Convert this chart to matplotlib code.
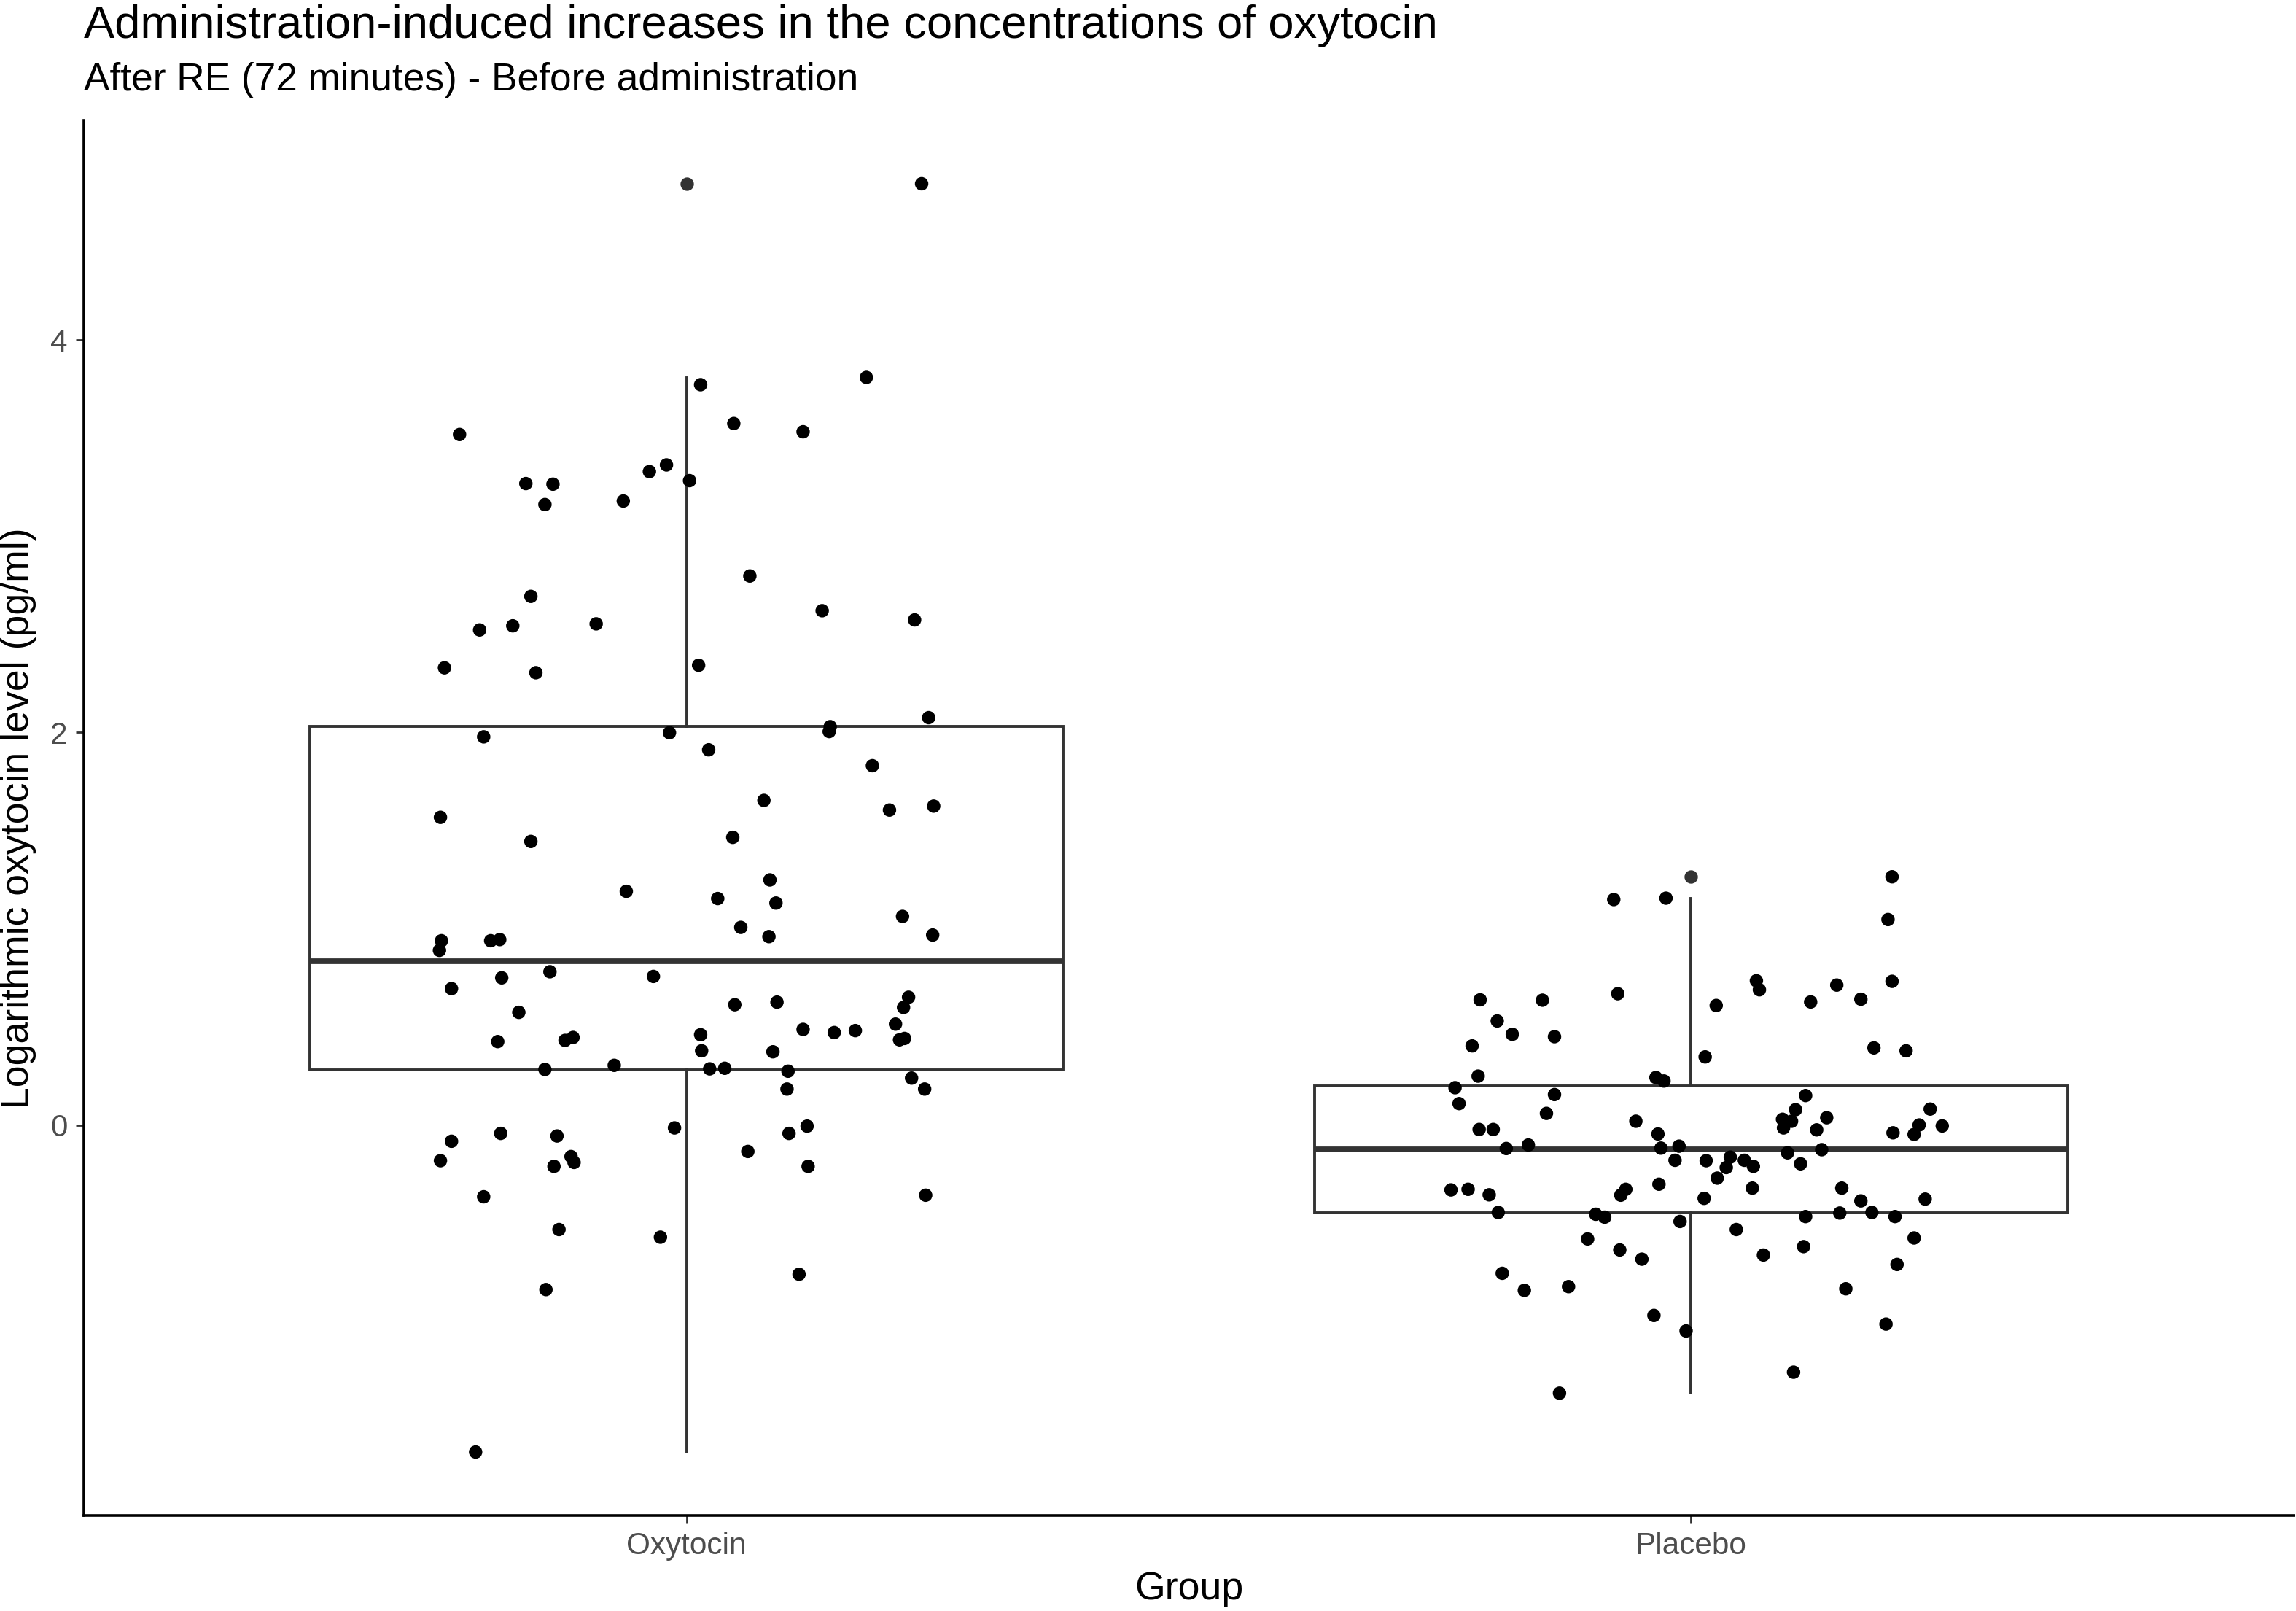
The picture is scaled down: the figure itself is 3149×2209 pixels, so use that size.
import numpy as np
import matplotlib
matplotlib.use("Agg")
import matplotlib.pyplot as plt

plt.rcParams['font.family'] = ['Liberation Sans', 'DejaVu Sans']

title = "Administration-induced increases in the concentrations of oxytocin"
subtitle = "After RE (72 minutes) - Before administration"
xlabel = "Group"
ylabel = "Logarithmic oxytocin level (pg/ml)"
groups = ["Oxytocin", "Placebo"]
yticks = [0, 2, 4]

# Oxytocin group: horizontal jitter (category units) and values
oxy_jitter = [
    0.234, 0.179, 0.014, 0.047, 0.116, -0.226, -0.020, -0.037, 0.003, -0.160, -0.133, -0.141, -0.063,
    0.063, -0.155, 0.135, 0.227, -0.206, -0.173, -0.090, -0.241, -0.150, 0.012, 0.241, 0.143, 0.142,
    -0.202, -0.017, 0.022, 0.185, 0.077, -0.245, 0.202, 0.246, -0.155, 0.046,
    0.083, -0.060, 0.031, 0.089, 0.215, 0.054, 0.082, 0.245, -0.244, -0.246, -0.195, -0.186,
    -0.136, -0.184, -0.033, -0.234, 0.048, 0.090, 0.221, 0.216, -0.167, 0.208, 0.116, 0.147,
    0.168, 0.212, 0.217, -0.188, -0.121, -0.113, 0.014, 0.015, 0.086, -0.141, -0.072, 0.023,
    0.038, 0.101, 0.100, 0.224, 0.237, -0.012, 0.120, 0.102, 0.061, 0.121, -0.185, -0.234,
    -0.129, -0.245, -0.115, -0.112, -0.132, -0.202, 0.238,
    -0.127, -0.026, 0.112, -0.140, -0.210,
]
oxy_values = [
    4.797, 3.810, 3.773, 3.575, 3.533, 3.519, 3.364, 3.330, 3.284, 3.269, 3.266, 3.162, 3.180,
    2.798, 2.694, 2.621, 2.574, 2.523, 2.544, 2.554, 2.330, 2.305, 2.343, 2.076, 2.030, 2.005,
    1.978, 1.999, 1.912, 1.831, 1.654, 1.568, 1.605, 1.625, 1.445, 1.466,
    1.249, 1.191, 1.154, 1.131, 1.063, 1.007, 0.960, 0.968, 0.939, 0.890, 0.939, 0.945,
    0.781, 0.750, 0.757, 0.695, 0.613, 0.626, 0.651, 0.599, 0.574, 0.514, 0.487, 0.471,
    0.481, 0.434, 0.441, 0.425, 0.431, 0.446, 0.460, 0.378, 0.373, 0.283, 0.304, 0.286,
    0.289, 0.274, 0.183, 0.239, 0.183, -0.015, -0.006, -0.043, -0.135, -0.211, -0.043, -0.083,
    -0.056, -0.182, -0.161, -0.191, -0.211, -0.366, -0.358,
    -0.533, -0.572, -0.761, -0.839, -1.667,
]

# Placebo group
pla_jitter = [
    0.200, -0.077, -0.025, 0.196, 0.200, 0.065, 0.068, 0.145, 0.119, 0.169, 0.025, -0.073,
    -0.210, -0.148, -0.193, -0.178, -0.136, -0.218, 0.182, 0.214, 0.014,
    -0.212, -0.235, -0.231, -0.035, -0.027, -0.136, -0.144, -0.055, -0.211, -0.197, -0.184,
    -0.162, -0.033, -0.030, -0.012, -0.016, 0.114, 0.104, 0.091, 0.100, 0.092, 0.135, 0.125,
    0.238, 0.227, 0.250, 0.201, 0.222, 0.096, 0.130, 0.109, 0.015, 0.039, 0.053, 0.062,
    0.035, 0.026, 0.061, 0.013, -0.032, -0.065, -0.070, -0.239, -0.222, -0.201, -0.192,
    -0.095, -0.086, -0.011, 0.150, 0.169, 0.233, 0.148, 0.180, 0.203, 0.114, 0.045,
    -0.103, -0.071, -0.049, -0.188, -0.166, -0.122, -0.037, -0.005, -0.131, 0.222, 0.112,
    0.072, 0.205, 0.154, 0.194, 0.102,
]
pla_values = [
    1.265, 1.149, 1.156, 1.047, 0.732, 0.735, 0.689, 0.713, 0.627, 0.641, 0.609, 0.669,
    0.638, 0.636, 0.530, 0.462, 0.450, 0.403, 0.393, 0.378, 0.347,
    0.249, 0.190, 0.109, 0.242, 0.224, 0.155, 0.059, 0.019, -0.023, -0.023, -0.120,
    -0.102, -0.046, -0.118, -0.108, -0.180, 0.150, 0.078, 0.029, 0.019, -0.015, 0.037, -0.025,
    0.081, 0.000, -0.005, -0.040, -0.048, -0.142, -0.126, -0.198, -0.182, -0.164, -0.180, -0.211,
    -0.217, -0.271, -0.322, -0.374, -0.302, -0.328, -0.358, -0.331, -0.328, -0.356, -0.446,
    -0.455, -0.470, -0.492, -0.322, -0.387, -0.378, -0.449, -0.446, -0.467, -0.467, -0.533,
    -0.581, -0.637, -0.684, -0.756, -0.843, -0.824, -0.971, -1.050, -1.367, -0.576, -0.620,
    -0.663, -0.711, -0.835, -1.015, -1.260,
]

# Box statistics
box_q1 = [0.282, -0.446]
box_med = [0.836, -0.123]
box_q3 = [2.033, 0.198]
box_whislo = [-1.667, -1.365]
box_whishi = [3.808, 1.156]
box_outliers = [[4.797], [1.265]]

W, H, DPI = 3149, 2209, 200
fig = plt.figure(figsize=(W / DPI, H / DPI), dpi=DPI)
fig.patch.set_facecolor("white")
left_px, right_px, top_px, bottom_px = 115, 3146, 165, 2078
ax = fig.add_axes([left_px / W, 1 - bottom_px / H, (right_px - left_px) / W, (bottom_px - top_px) / H])

positions = np.arange(1, len(groups) + 1)
stats = []
for i in range(len(groups)):
    stats.append(dict(med=box_med[i], q1=box_q1[i], q3=box_q3[i],
                      whislo=box_whislo[i], whishi=box_whishi[i],
                      fliers=box_outliers[i]))
ax.bxp(stats, positions=positions, widths=0.75, showcaps=False, patch_artist=True,
       boxprops=dict(facecolor="white", edgecolor="#333333", linewidth=1.4),
       medianprops=dict(color="#333333", linewidth=2.8),
       whiskerprops=dict(color="#333333", linewidth=1.4),
       flierprops=dict(marker="o", markerfacecolor="#333333", markeredgecolor="none",
                       markersize=6.6), zorder=2)

for pos, jit, vals in [(positions[0], oxy_jitter, oxy_values), (positions[1], pla_jitter, pla_values)]:
    ax.scatter(pos + np.asarray(jit), vals, s=44, color="black", edgecolors="none", zorder=3)

all_vals = np.concatenate([oxy_values, pla_values])
rng = all_vals.max() - all_vals.min()
ax.set_ylim(all_vals.min() - 0.05 * rng, all_vals.max() + 0.05 * rng)
ax.set_xlim(0.4, len(groups) + 0.6)

ax.set_xticks(positions)
ax.set_xticklabels(groups)
ax.set_yticks(yticks)
ax.tick_params(axis="both", colors="#333333", labelcolor="#4D4D4D", labelsize=15.2,
               length=4, width=1.0, pad=4)
for s in ["top", "right"]:
    ax.spines[s].set_visible(False)
for s in ["left", "bottom"]:
    ax.spines[s].set_color("black")
    ax.spines[s].set_linewidth(1.3)

ax.set_xlabel(xlabel, fontsize=19.3, labelpad=5)
ax.set_ylabel(ylabel, fontsize=19.3, labelpad=7)

fig.text(left_px / W, 1 - 52 / H, title, fontsize=22.8, ha="left", va="baseline")
fig.text(left_px / W, 1 - 124 / H, subtitle, fontsize=19.2, ha="left", va="baseline")

fig.savefig("out.png", dpi=DPI, facecolor="white")
